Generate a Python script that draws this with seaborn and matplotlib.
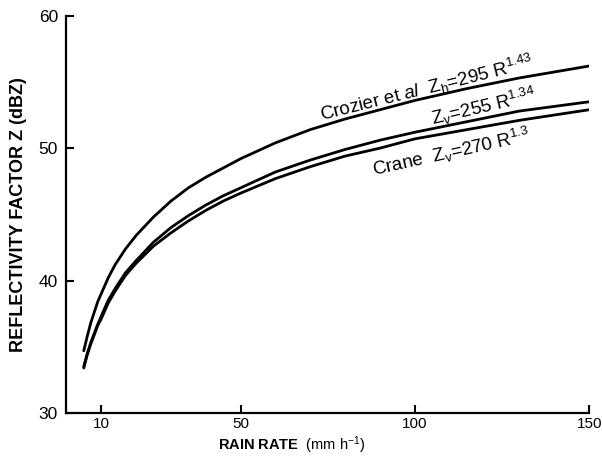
import numpy as np
import pandas as pd
import matplotlib
matplotlib.use("Agg")
import matplotlib.pyplot as plt
import seaborn as sns

# Data
rain_rate = [5, 6, 7, 8, 9, 10, 12, 14, 17, 20, 25, 30, 35, 40, 45, 50,
             60, 70, 80, 90, 100, 115, 130, 150]
crozier_zh = [34.7, 35.8, 36.8, 37.6, 38.4, 39.0, 40.2, 41.2, 42.4, 43.4, 44.8, 46.0,
              47.0, 47.8, 48.5, 49.2, 50.4, 51.4, 52.2, 52.9, 53.6, 54.5, 55.3, 56.2]
zv_255 = [33.5, 34.5, 35.3, 36.0, 36.7, 37.3, 38.5, 39.4, 40.6, 41.5, 42.9, 44.0,
          44.9, 45.7, 46.4, 47.0, 48.2, 49.1, 49.9, 50.6, 51.2, 52.0, 52.8, 53.5]
crane_zv = [33.4, 34.4, 35.2, 35.9, 36.6, 37.1, 38.3, 39.2, 40.4, 41.3, 42.6, 43.6,
            44.5, 45.3, 46.0, 46.6, 47.7, 48.6, 49.4, 50.0, 50.7, 51.4, 52.1, 52.9]

x_ticks = [10, 50, 100, 150]
y_ticks = [30, 40, 50, 60]

sns.set_theme(style="ticks")
plt.rcParams['font.family'] = ['Liberation Sans', 'DejaVu Sans']
plt.rcParams['mathtext.fontset'] = 'custom'
plt.rcParams['mathtext.rm'] = 'Liberation Sans'
plt.rcParams['mathtext.it'] = 'Liberation Sans:italic'
plt.rcParams['mathtext.bf'] = 'Liberation Sans:bold'

df = pd.concat([
    pd.DataFrame({"R": rain_rate, "Z": crozier_zh, "model": "crozier"}),
    pd.DataFrame({"R": rain_rate, "Z": zv_255, "model": "zv255"}),
    pd.DataFrame({"R": rain_rate, "Z": crane_zv, "model": "crane"}),
])

fig = plt.figure(figsize=(6.03, 4.61), dpi=100)
ax = fig.add_axes([0.110, 0.104, 0.867, 0.862])

sns.lineplot(data=df, x="R", y="Z", hue="model", units="model", estimator=None,
             palette={"crozier": "black", "zv255": "black", "crane": "black"},
             linewidth=2.0, legend=False, ax=ax)

ax.set_xlim(0, 150)
ax.set_ylim(30, 60)
ax.set_xticks(x_ticks)
ax.set_yticks(y_ticks)
ax.tick_params(direction="in", length=6, width=1.5, color="black", labelcolor="black")
ax.tick_params(axis="x", labelsize=11, pad=3)
ax.tick_params(axis="y", labelsize=12.5, pad=6)
for s in ["top", "right"]:
    ax.spines[s].set_visible(False)
for s in ["left", "bottom"]:
    ax.spines[s].set_linewidth(1.6)
    ax.spines[s].set_color("black")

ax.set_xlabel(r"$\mathbf{RAIN\ RATE}$  (mm h$^{-1}$)", fontsize=10.5, color="black")
ax.xaxis.set_label_coords(0.432, -0.053)
ax.set_ylabel("REFLECTIVITY FACTOR Z (dBZ)", fontsize=13, fontweight="bold", color="black")
ax.yaxis.set_label_coords(-0.075, 0.5)

ax.text(103.4, 54.5, r"Crozier et $\mathit{al}$ Z$_\mathrm{h}$=295 R$^{1.43}$".replace("$ Z", "$  Z"),
        rotation=14, ha="center", va="center", rotation_mode="anchor", fontsize=13.5, color="black")
ax.text(119.8, 53.1, r"Z$_\mathrm{v}$=255 R$^{1.34}$", rotation=13,
        ha="center", va="center", rotation_mode="anchor", fontsize=13.5, color="black")
ax.text(110.3, 49.7, r"Crane  Z$_\mathrm{v}$=270 R$^{1.3}$", rotation=12.5,
        ha="center", va="center", rotation_mode="anchor", fontsize=13.5, color="black")

fig.savefig("out.png", dpi=100)
